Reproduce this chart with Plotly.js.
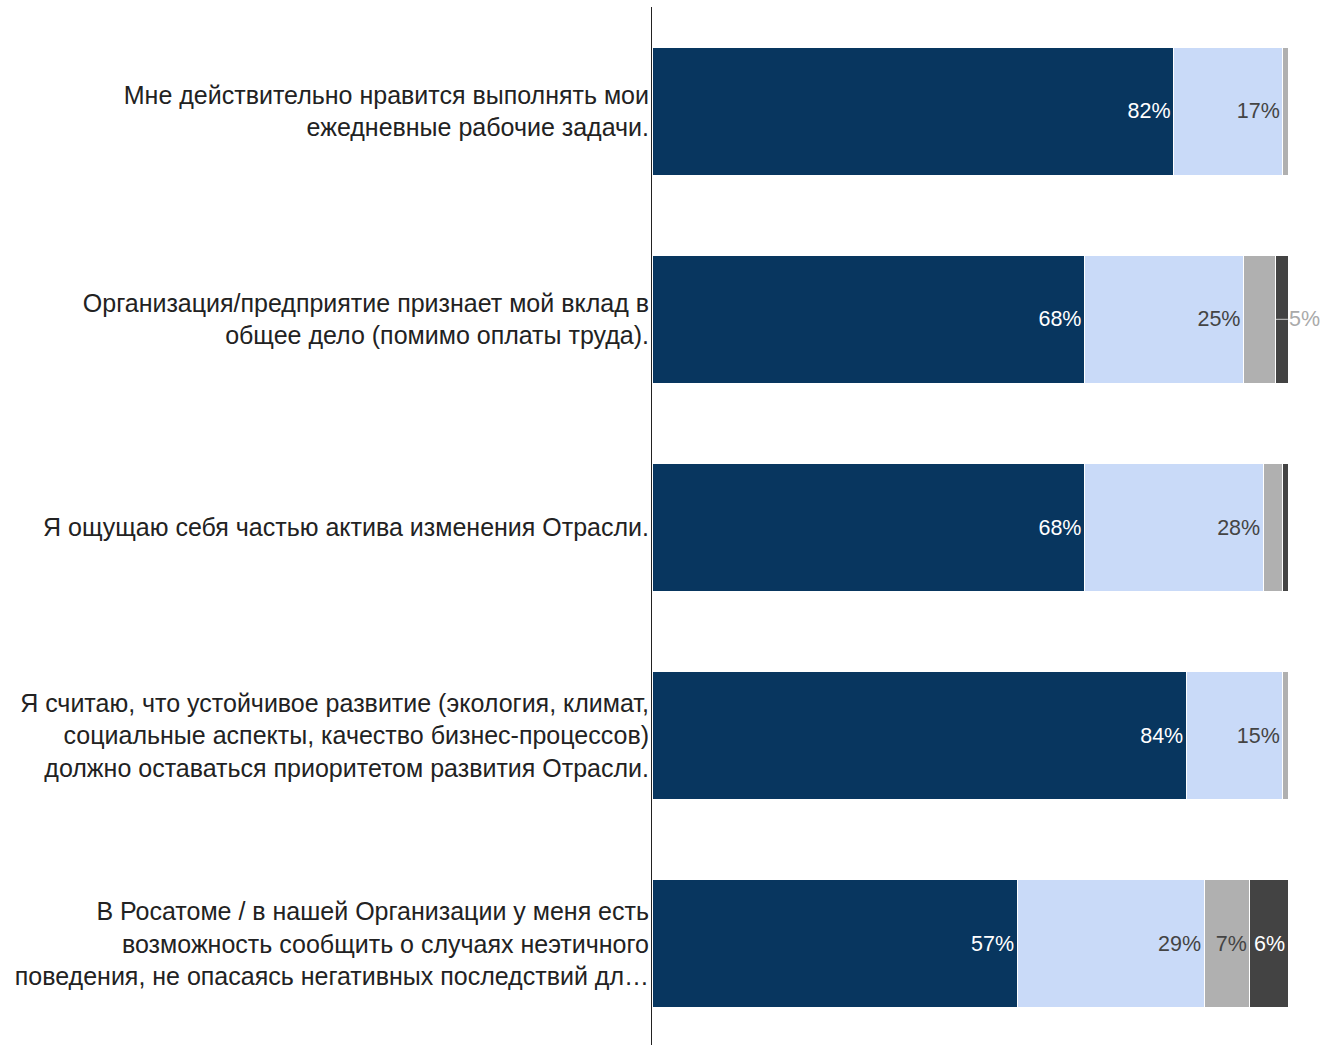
<!DOCTYPE html>
<html><head><meta charset="utf-8">
<script src="https://cdn.plot.ly/plotly-3.0.1.min.js"></script>
<style>html,body{margin:0;padding:0;background:#fff;overflow:hidden}</style>
</head><body>
<div id="chart" style="width:1322px;height:1048px"></div>
<script>
const categories = [
  "Мне действительно нравится выполнять мои<br>ежедневные рабочие задачи.",
  "Организация/предприятие признает мой вклад в<br>общее дело (помимо оплаты труда).",
  "Я ощущаю себя частью актива изменения Отрасли.",
  "Я считаю, что устойчивое развитие (экология, климат,<br>социальные аспекты, качество бизнес-процессов)<br>должно оставаться приоритетом развития Отрасли.",
  "В Росатоме / в нашей Организации у меня есть<br>возможность сообщить о случаях неэтичного<br>поведения, не опасаясь негативных последствий дл…"
];
const seriesNames = ["Согласен", "Скорее согласен", "Скорее не согласен", "Не согласен"];
const agree        = [82.0, 68.0, 68.0, 84.0, 57.4];
const ratherAgree  = [17.2, 25.0, 28.1, 15.2, 29.4];
const ratherDis    = [0.8, 5.1, 3.0, 0.8, 7.2];
const disagree     = [0.0, 1.9, 0.9, 0.0, 6.0];
// which labels are drawn outside the bar with a connector
const outsideLabel = [false, true, false, false, false];

const colors = ["#08365f", "#c9daf8", "#b0b0b0", "#434343"];
const textColors = ["#ffffff", "#444444", "#444444", "#ffffff"];
const allVals = [agree, ratherAgree, ratherDis, disagree];
const FONT = "Arial, 'Liberation Sans', sans-serif";

const traces = allVals.map((vals, i) => ({
  type: "bar",
  orientation: "h",
  name: seriesNames[i],
  y: categories,
  x: vals,
  text: vals.map((v, j) => (v >= 5.5 && !(i === 2 && outsideLabel[j])) ? Math.round(v) + "%" : ""),
  textposition: "inside",
  insidetextanchor: "end",
  constraintext: "none",
  textfont: {family: FONT, size: 21.5, color: textColors[i]},
  marker: {color: colors[i], line: {color: "#ffffff", width: 1}},
  hoverinfo: "none"
}));

const annotations = [];
outsideLabel.forEach((o, j) => {
  if (!o) return;
  const endX = agree[j] + ratherAgree[j] + ratherDis[j];
  annotations.push({
    x: endX, y: categories[j], xref: "x", yref: "y",
    text: Math.round(ratherDis[j]) + "%",
    showarrow: true, arrowhead: 0, arrowwidth: 1, arrowcolor: "#cccccc",
    ax: 29, ay: 0, standoff: 0,
    font: {family: FONT, size: 21.5, color: "#aaaaaa"}
  });
});

const layout = {
  width: 1322, height: 1048,
  margin: {l: 652, r: 34, t: 7, b: 0},
  barmode: "stack",
  bargap: 0.385,
  showlegend: false,
  paper_bgcolor: "#ffffff",
  plot_bgcolor: "#ffffff",
  font: {family: FONT, color: "#222222"},
  xaxis: {range: [0, 100], visible: false, showgrid: false, zeroline: false, fixedrange: true},
  yaxis: {
    autorange: "reversed",
    showline: true, linecolor: "#222222", linewidth: 1,
    showgrid: false, zeroline: false, ticks: "",
    ticklabelstandoff: -3,
    tickfont: {size: 25, color: "#222222", family: FONT}
  },
  annotations: annotations
};

Plotly.newPlot("chart", traces, layout, {displayModeBar: false, staticPlot: true});
</script>
</body></html>
